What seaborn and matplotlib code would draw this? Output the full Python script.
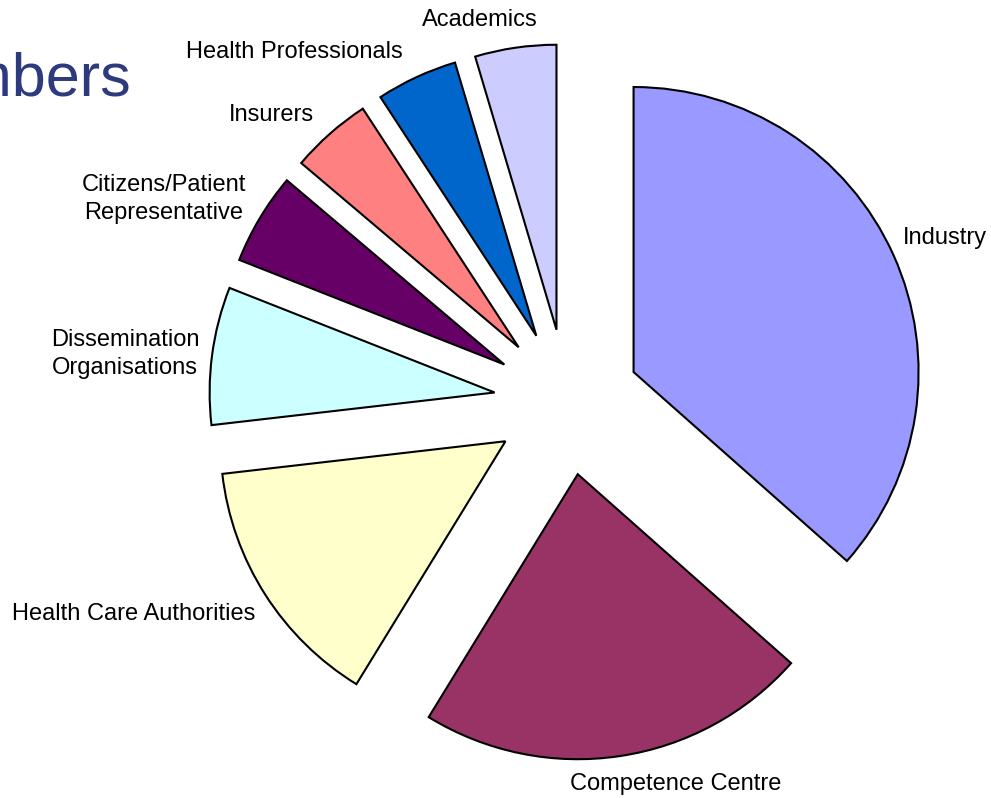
import matplotlib
matplotlib.use("Agg")
import matplotlib.pyplot as plt
import seaborn as sns

# ---- data ----
categories = ["Industry", "Competence Centre", "Health Care Authorities",
              "Dissemination\nOrganisations", "Citizens/Patient\nRepresentative",
              "Insurers", "Health Professionals", "Academics"]
shares = [36.5, 22.2, 14.4, 7.8, 5.2, 4.6, 4.6, 4.6]
colors = ["#9999FF", "#993366", "#FFFFCC", "#CCFFFF", "#660066",
          "#FF8080", "#0066CC", "#CCCCFF"]
title_text = "Members"

# ---- styling / layout ----
sns.set_theme(style="white")
plt.rcParams["font.family"] = ["Liberation Sans", "DejaVu Sans"]

W, H = 991, 798
fig = plt.figure(figsize=(W / 100, H / 100), dpi=100)
ax = fig.add_axes([0, 0, 1, 1])

cx, cy = 567, H - 402
radius = 285
explode_dist = 73

ax.pie(shares, colors=colors, startangle=90, counterclock=False,
       radius=radius, center=(cx, cy),
       explode=[explode_dist] * len(shares),
       wedgeprops=dict(edgecolor="black", linewidth=1.5, joinstyle="miter"))

ax.set_xlim(0, W)
ax.set_ylim(0, H)
ax.set_aspect("auto")
ax.axis("off")

# label anchor points (image pixel coords, centre of text)
label_pos = [(945, 238), (676, 784), (134, 614), (125, 354),
             (164, 199), (271, 115), (294, 52), (480, 20)]
for lab, (lx, ly) in zip(categories, label_pos):
    ax.text(lx, H - ly, lab, ha="center", va="center", fontsize=17,
            color="black", multialignment="center", linespacing=1.32)

# partially visible slide title (cut at the left edge, as in the reference)
ax.text(131, H - 95, title_text, ha="right", va="baseline",
        fontsize=44, color="#2D3A7E")

fig.savefig("out.png", dpi=100)
